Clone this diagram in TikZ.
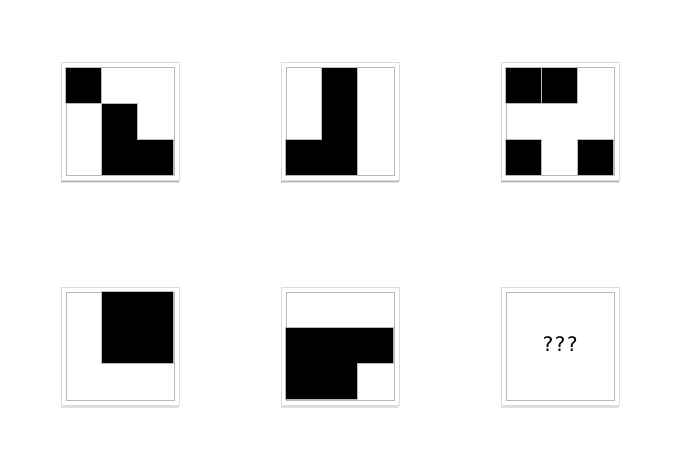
\documentclass[tikz,border=0pt]{standalone}
\usepackage{fontspec}
\newfontfamily\qfont{DejaVu Sans Mono}
\usetikzlibrary{shadows}
\begin{document}
\begin{tikzpicture}[x=1pt,y=-1pt,
  panelbox/.style={draw=gray!28, fill=white, minimum size=118pt, inner sep=0pt, line width=0.5pt,
    drop shadow={shadow xshift=0pt, shadow yshift=-2.5pt, opacity=0.12, fill=black},
    drop shadow={shadow xshift=0pt, shadow yshift=-1.2pt, opacity=0.18, fill=black}},
  gridbox/.style={draw=gray!55, minimum size=108pt, inner sep=0pt, line width=0.8pt},
  blk/.style={fill=black, draw=gray!55, line width=0.5pt},
  cellunit/.style={x=36pt, y=-36pt}]
\useasboundingbox (0,0) rectangle (698,472);
\fill[white] (0,0) rectangle (698,472);
% panels
\node[panelbox] (f1) at (120,121.5) {};
\node[panelbox] (f2) at (340,121.5) {};
\node[panelbox] (f3) at (560,121.5) {};
\node[panelbox] (f4) at (120,346) {};
\node[panelbox] (f5) at (340,346) {};
\node[panelbox] (f6) at (560,346) {};
\node[gridbox] (g1) at (f1.center) {};
\node[gridbox] (g2) at (f2.center) {};
\node[gridbox] (g3) at (f3.center) {};
\node[gridbox] (g4) at (f4.center) {};
\node[gridbox] (g5) at (f5.center) {};
\node[gridbox] (g6) at (f6.center) {};
% panel 1
\begin{scope}[shift={(g1.north west)}, cellunit]
  \draw[blk] (0,0) rectangle (1,1);
  \draw[blk] (1,1) -- (2,1) -- (2,2) -- (3,2) -- (3,3) -- (1,3) -- cycle;
\end{scope}
% panel 2
\begin{scope}[shift={(g2.north west)}, cellunit]
  \draw[blk] (1,0) -- (2,0) -- (2,3) -- (0,3) -- (0,2) -- (1,2) -- cycle;
\end{scope}
% panel 3
\begin{scope}[shift={(g3.north west)}, cellunit]
  \draw[blk] (0,0) rectangle (1,1);
  \draw[blk] (1,0) rectangle (2,1);
  \draw[blk] (0,2) rectangle (1,3);
  \draw[blk] (2,2) rectangle (3,3);
\end{scope}
% panel 4
\begin{scope}[shift={(g4.north west)}, cellunit]
  \draw[blk] (1,0) rectangle (3,2);
\end{scope}
% panel 5
\begin{scope}[shift={(g5.north west)}, cellunit]
  \draw[blk] (0,1) -- (3,1) -- (3,2) -- (2,2) -- (2,3) -- (0,3) -- cycle;
\end{scope}
% panel 6
\node[font=\qfont\fontsize{20}{24}\selectfont, inner sep=0pt] (q) at ([yshift=2pt]g6.center) {???};
\end{tikzpicture}
\end{document}
